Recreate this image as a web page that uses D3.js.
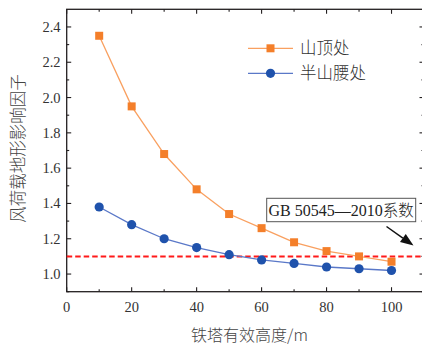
<!DOCTYPE html>
<html><head><meta charset="utf-8">
<script src="https://cdn.jsdelivr.net/npm/d3@7"></script>
<style>body{margin:0;background:#fff}svg{display:block}</style>
</head><body>
<svg id="c" width="422" height="346"></svg>
<script>
const heights = [10,20,30,40,50,60,70,80,90,100];
const summit = [2.35,1.95,1.68,1.48,1.34,1.26,1.18,1.13,1.10,1.07];
const halfway = [1.38,1.28,1.20,1.15,1.11,1.08,1.06,1.04,1.03,1.02];
const seriesNames = ["山顶处","半山腰处"];
const codeValue = 1.1;
const codeLabel = "GB 50545—2010";
const codeSuffix = "系数";
const xTicks = [0,20,40,60,80,100];
const yTicks = [1.0,1.2,1.4,1.6,1.8,2.0,2.2,2.4];
const xTitle = "铁塔有效高度/m";
const yTitle = "风荷载地形影响因子";

const svg = d3.select("#c");
const m = {l:66.7, t:9.3, r:424, b:291.7};
const x = d3.scaleLinear().domain([0,110]).range([m.l, m.r]);
const y = d3.scaleLinear().domain([0.9,2.5]).range([m.b, m.t]);
const serif = "'Liberation Serif','Times New Roman',serif";
const cjk = "'Noto Sans CJK SC','Noto Sans CJK JP',sans-serif";
const axCol = "#231f20";

// frame
svg.append("rect").attr("x",m.l).attr("y",m.t).attr("width",m.r-m.l).attr("height",m.b-m.t)
  .attr("fill","none").attr("stroke",axCol).attr("stroke-width",1.3);

const minorX = d3.range(10,111,20);
const minorY = d3.range(0.9,2.5,0.2).map(v=>+v.toFixed(1));
const g = svg.append("g").attr("stroke",axCol).attr("stroke-width",1.1);
xTicks.forEach(v=>{
  g.append("line").attr("x1",x(v)).attr("x2",x(v)).attr("y1",m.b).attr("y2",m.b-4.5);
  g.append("line").attr("x1",x(v)).attr("x2",x(v)).attr("y1",m.t).attr("y2",m.t+4.5);
});
minorX.forEach(v=>{
  g.append("line").attr("x1",x(v)).attr("x2",x(v)).attr("y1",m.b).attr("y2",m.b-2.5);
  g.append("line").attr("x1",x(v)).attr("x2",x(v)).attr("y1",m.t).attr("y2",m.t+2.5);
});
yTicks.forEach(v=>{
  g.append("line").attr("x1",m.l).attr("x2",m.l+4.5).attr("y1",y(v)).attr("y2",y(v));
  g.append("line").attr("x1",m.r).attr("x2",m.r-4.5).attr("y1",y(v)).attr("y2",y(v));
});
minorY.forEach(v=>{
  g.append("line").attr("x1",m.l).attr("x2",m.l+2.5).attr("y1",y(v)).attr("y2",y(v));
  g.append("line").attr("x1",m.r).attr("x2",m.r-2.5).attr("y1",y(v)).attr("y2",y(v));
});

// tick labels
svg.append("g").selectAll("text").data(xTicks).join("text")
  .attr("x",d=>x(d)).attr("y",311.5).attr("text-anchor","middle")
  .attr("font-family",serif).attr("font-size",14.5).attr("fill","#333").text(d=>d);
svg.append("g").selectAll("text").data(yTicks).join("text")
  .attr("x",60.5).attr("y",d=>y(d)+5).attr("text-anchor","end")
  .attr("font-family",serif).attr("font-size",14.5).attr("fill","#333").text(d=>d.toFixed(1));

// titles
svg.append("text").attr("x",249.5).attr("y",340.5).attr("text-anchor","middle")
  .attr("font-family",cjk).attr("font-size",16).attr("fill","#444").attr("font-weight",300).text(xTitle);
svg.append("text").attr("transform","translate(24,148.5) rotate(-90)").attr("text-anchor","middle")
  .attr("font-family",cjk).attr("font-size",16.5).attr("fill","#444").attr("font-weight",300).text(yTitle);

// reference dashed line
svg.append("line").attr("x1",m.l).attr("x2",422).attr("y1",y(codeValue)).attr("y2",y(codeValue))
  .attr("stroke","#ff1a1a").attr("stroke-width",2).attr("stroke-dasharray","5.5,3");

const line = d3.line().x(d=>x(d[0])).y(d=>y(d[1]));
const orLine = "#f9a060", orFill = "#f47f2a";
const blLine = "#5a78c8", blFill = "#1f52ac";
const sData = heights.map((h,i)=>[h,summit[i]]);
const hData = heights.map((h,i)=>[h,halfway[i]]);

svg.append("path").datum(hData).attr("d",line).attr("fill","none").attr("stroke",blLine).attr("stroke-width",1.3);
svg.append("g").selectAll("circle").data(hData).join("circle")
  .attr("cx",d=>x(d[0])).attr("cy",d=>y(d[1])).attr("r",4.6).attr("fill",blFill);
svg.append("path").datum(sData).attr("d",line).attr("fill","none").attr("stroke",orLine).attr("stroke-width",1.3);
const sq = 8;
svg.append("g").selectAll("rect").data(sData).join("rect")
  .attr("x",d=>x(d[0])-sq/2).attr("y",d=>y(d[1])-sq/2).attr("width",sq).attr("height",sq).attr("fill",orFill);

// legend
const lg = svg.append("g");
[[orLine,orFill,"sq",48.3],[blLine,blFill,"c",73.3]].forEach((s,i)=>{
  lg.append("line").attr("x1",248).attr("x2",293).attr("y1",s[3]).attr("y2",s[3]).attr("stroke",s[0]).attr("stroke-width",1.3);
  if(s[2]==="sq") lg.append("rect").attr("x",270.5-4).attr("y",s[3]-4).attr("width",8).attr("height",8).attr("fill",s[1]);
  else lg.append("circle").attr("cx",270.5).attr("cy",s[3]).attr("r",4.6).attr("fill",s[1]);
  lg.append("text").attr("x",300).attr("y",s[3]+6).attr("font-family",cjk).attr("font-size",16.5)
    .attr("font-weight",300).attr("fill","#333").text(seriesNames[i]);
});

// annotation arrow
const ax0 = 386.5, ay0 = 226.5, ax1 = 413.5, ay1 = 245.5;
const ang = Math.atan2(ay1-ay0, ax1-ax0);
const hl = 13, hw = 5;
const bx = ax1 - hl*Math.cos(ang), by = ay1 - hl*Math.sin(ang);
svg.append("line").attr("x1",ax0).attr("y1",ay0).attr("x2",bx).attr("y2",by)
  .attr("stroke","#111").attr("stroke-width",1.5);
svg.append("path").attr("d",`M${ax1},${ay1}L${bx+hw*Math.sin(ang)},${by-hw*Math.cos(ang)}L${bx-hw*Math.sin(ang)},${by+hw*Math.cos(ang)}Z`)
  .attr("fill","#111");
svg.append("rect").attr("x",266.7).attr("y",198.3).attr("width",149).attr("height",23.4)
  .attr("fill","#fff").attr("stroke","#555").attr("stroke-width",1);
svg.append("text").attr("x",341.2).attr("y",216.3).attr("text-anchor","middle")
  .attr("font-family",serif).attr("font-size",16).attr("fill","#222").text(codeLabel)
  .append("tspan").attr("font-family",cjk).attr("font-size",15.5).attr("font-weight",300).text(codeSuffix);
</script>
</body></html>
